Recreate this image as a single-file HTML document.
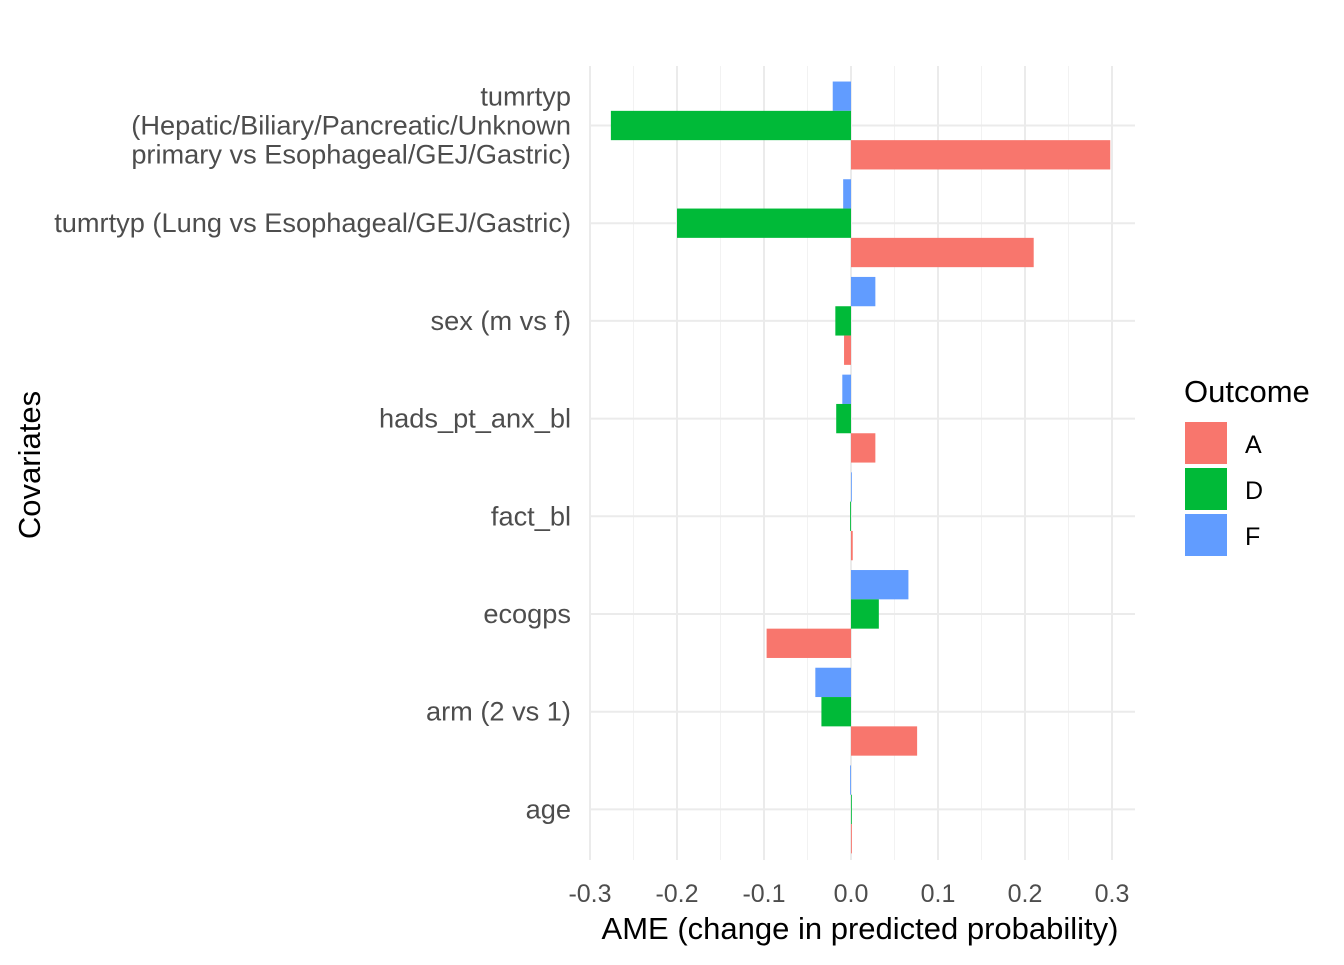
<!DOCTYPE html>
<html><head><meta charset="utf-8"><style>
body{margin:0;background:#fff}
svg text{font-family:"Liberation Sans",Arial,sans-serif}
</style></head><body>
<svg id="chart" width="1344" height="960" xmlns="http://www.w3.org/2000/svg">
<g id="grid"></g><g id="bars"></g><g id="axes"></g><g id="legend"></g>
</svg>
<script>
const categories=["tumrtyp\n(Hepatic/Biliary/Pancreatic/Unknown\nprimary vs Esophageal/GEJ/Gastric)","tumrtyp (Lung vs Esophageal/GEJ/Gastric)","sex (m vs f)","hads_pt_anx_bl","fact_bl","ecogps","arm (2 vs 1)","age"];
const seriesNames=["F","D","A"];
const valuesF=[-0.021,-0.009,0.028,-0.010,0.000,0.066,-0.041,-0.001];
const valuesD=[-0.276,-0.200,-0.018,-0.017,-0.001,0.032,-0.034,0.000];
const valuesA=[0.298,0.210,-0.008,0.028,0.002,-0.097,0.076,0.001];
const xTicks=[-0.3,-0.2,-0.1,0.0,0.1,0.2,0.3];
const xTickLabels=["-0.3","-0.2","-0.1","0.0","0.1","0.2","0.3"];
const colors={A:"#F8766D",D:"#00BA38",F:"#619CFF"};
const NS="http://www.w3.org/2000/svg";
const X0=590,X1=1112,PL=590,PR=1135,PT=66,PB=860;
const x=v=>X0+(v+0.3)/0.6*(X1-X0);
const step=97.7, yTop=125.5;
const y=i=>yTop+i*step;
function mk(tag,attrs,parent){const e=document.createElementNS(NS,tag);for(const k in attrs)e.setAttribute(k,attrs[k]);document.getElementById(parent).appendChild(e);return e;}
for(let i=0;i<xTicks.length-1;i++){const m=(xTicks[i]+xTicks[i+1])/2;
const g=mk("line",{x1:x(m),x2:x(m),y1:PT,y2:PB,stroke:"#f2f2f2","stroke-width":1},"grid");

}
xTicks.forEach(t=>{const g=mk("line",{x1:x(t),x2:x(t),y1:PT,y2:PB,stroke:"#ebebeb","stroke-width":2},"grid");

});
categories.forEach((c,i)=>{const g=mk("line",{x1:PL,x2:PR,y1:y(i),y2:y(i),stroke:"#ebebeb","stroke-width":2},"grid");

});
const bh=step*0.9/3;
const sv={F:valuesF,D:valuesD,A:valuesA};
categories.forEach((c,i)=>{seriesNames.forEach((s,j)=>{const v=sv[s][i];
const yy=y(i)-step*0.45+j*bh;
const r=mk("rect",{x:Math.min(x(0),x(v)),y:yy,width:Math.max(Math.abs(x(v)-x(0)),0.8),height:bh,fill:colors[s]},"bars");

});});
xTicks.forEach((t,i)=>{const e=mk("text",{x:x(t),y:902,"text-anchor":"middle","font-size":25,fill:"#4d4d4d"},"axes");e.textContent=xTickLabels[i];

});
categories.forEach((c,i)=>{const lines=c.split("\n");const lh=29;
lines.forEach((l,k)=>{const e=mk("text",{x:571,y:y(i)+9+(k-(lines.length-1)/2)*lh,"text-anchor":"end","font-size":27.2,fill:"#4d4d4d"},"axes");e.textContent=l;

});});
let t=mk("text",{x:860,y:939,"text-anchor":"middle","font-size":31,fill:"#000"},"axes");t.textContent="AME (change in predicted probability)";


t=mk("text",{x:40,y:465,"text-anchor":"middle","font-size":31,fill:"#000",transform:"rotate(-90 40 465)"},"axes");t.textContent="Covariates";


t=mk("text",{x:1184,y:402,"font-size":31,fill:"#000"},"legend");t.textContent="Outcome";


["A","D","F"].forEach((s,k)=>{const r=mk("rect",{x:1185,y:422+k*46,width:42,height:42,fill:colors[s]},"legend");


const e=mk("text",{x:1245,y:453+k*46,"font-size":25,fill:"#000"},"legend");e.textContent=s;

});
</script>
</body></html>
